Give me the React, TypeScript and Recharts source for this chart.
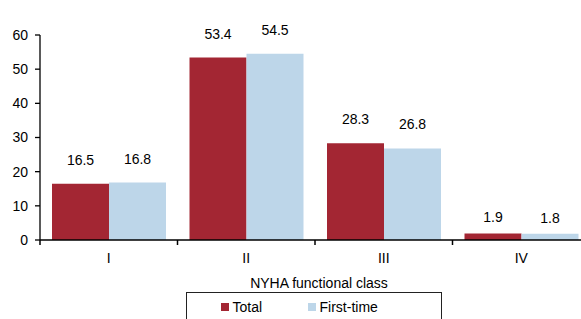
import React from 'react';
import { BarChart, Bar, XAxis, YAxis, Legend, LabelList } from 'recharts';

const categories = ['I', 'II', 'III', 'IV'];
const totalValues = [16.5, 53.4, 28.3, 1.9];
const firstTimeValues = [16.8, 54.5, 26.8, 1.8];
const yTicks = [0, 10, 20, 30, 40, 50, 60];

const data = categories.map((c, i) => ({ name: c, total: totalValues[i], firstTime: firstTimeValues[i] }));

const RED = '#A32633';
const BLUE = '#BDD6E9';
const FONT = '"Liberation Sans", Arial, sans-serif';

const XTick = (props: any) => {
  const { x, y, payload } = props;
  const half = payload && typeof payload.offset === 'number' && payload.offset > 0 ? payload.offset : 68.75;
  const axisY = y - 13;
  return (
    <g>
      <line x1={x - half} x2={x - half} y1={axisY} y2={axisY + 5} stroke="#000" strokeWidth={1.5} />
      <text x={x} y={y} dy="0.71em" textAnchor="middle" fontSize={14} fill="#000" fontFamily={FONT}>
        {payload.value}
      </text>
    </g>
  );
};

const ValueLabel = (props: any) => {
  const { x, y, width, height, value } = props;
  const gap = Math.min(24, 10 + height);
  const center = Math.max(21.7, y - gap);
  return (
    <text x={x + width / 2} y={center + 5} textAnchor="middle" fontSize={14} fill="#000" fontFamily={FONT}>
      {Number(value).toFixed(1)}
    </text>
  );
};

const LegendBox = () => (
  <div
    style={{
      boxSizing: 'border-box',
      width: 256,
      height: 40,
      border: '1.5px solid #222',
      fontFamily: FONT,
      fontSize: 14,
      color: '#000',
      position: 'relative',
    }}
  >
    {[
      { label: 'Total', color: RED, left: 34 },
      { label: 'First-time', color: BLUE, left: 121 },
    ].map((it) => (
      <div key={it.label} style={{ position: 'absolute', left: it.left, top: 6, display: 'flex', alignItems: 'center', lineHeight: '16px' }}>
        <span style={{ display: 'inline-block', width: 8, height: 8, background: it.color, marginRight: 4 }} />
        <span>{it.label}</span>
      </div>
    ))}
  </div>
);

export default function App() {
  return (
    <div style={{ position: 'absolute', left: 0, top: 0, width: 581, height: 319, overflow: 'hidden', background: '#fff' }}>
      <BarChart
        width={600}
        height={319}
        data={data}
        margin={{ top: 35, right: 10, left: 0, bottom: 29 }}
        barCategoryGap={12}
        barGap={0}
      >
        <XAxis
          dataKey="name"
          height={50}
          tickSize={5}
          tickMargin={8}
          tickLine={false}
          axisLine={{ stroke: '#000', strokeWidth: 1.5 }}
          tick={<XTick />}
          interval={0}
          label={{ value: 'NYHA functional class', position: 'insideBottom', offset: 2, dx: 4, fontSize: 14, fill: '#000', fontFamily: FONT }}
        />
        <YAxis
          width={40}
          domain={[0, 60]}
          ticks={yTicks}
          interval={0}
          tickSize={5}
          tickMargin={7}
          axisLine={{ stroke: '#000', strokeWidth: 1.3 }}
          tickLine={{ stroke: '#000', strokeWidth: 1.3 }}
          tick={{ fontSize: 14, fill: '#000', fontFamily: FONT }}
        />
        <Legend
          layout="vertical"
          align="center"
          verticalAlign="middle"
          content={<LegendBox />}
          wrapperStyle={{ left: 185.5, top: 292, width: 256, height: 40 }}
        />
        <Bar dataKey="total" name="Total" fill={RED} isAnimationActive={false}>
          <LabelList dataKey="total" content={<ValueLabel />} />
        </Bar>
        <Bar dataKey="firstTime" name="First-time" fill={BLUE} isAnimationActive={false}>
          <LabelList dataKey="firstTime" content={<ValueLabel />} />
        </Bar>
      </BarChart>
    </div>
  );
}
